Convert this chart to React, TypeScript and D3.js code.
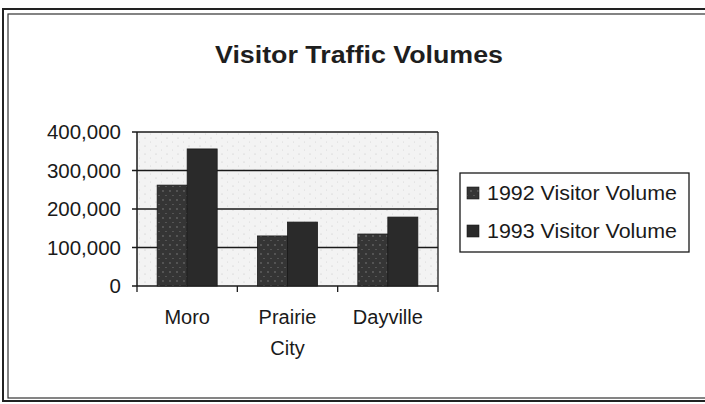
import React from "react";
import * as d3 from "d3";

const categories = [["Moro"], ["Prairie", "City"], ["Dayville"]];
const seriesNames = ["1992 Visitor Volume", "1993 Visitor Volume"];
const visitors1992 = [262000, 130000, 135000];
const visitors1993 = [356000, 166000, 179000];
const yTicks = [0, 100000, 200000, 300000, 400000];

const W = 705, H = 404;
const plot = { left: 137, right: 438, top: 132, bottom: 286 };
const font = "'Liberation Sans', Arial, sans-serif";

export default function App() {
  const keys = categories.map(c => c.join(" "));
  const x = d3.scaleBand().domain(keys).range([plot.left, plot.right]).paddingInner(0).paddingOuter(0);
  const inner = d3.scaleBand().domain(seriesNames).range([0, 60]);
  const y = d3.scaleLinear().domain([0, 400000]).range([plot.bottom, plot.top]);
  const fmt = d3.format(",");
  const series = [visitors1992, visitors1993];
  const fills = ["url(#speck92)", "#2a2a2a"];

  return (
    <svg width={W} height={H} style={{ position: "absolute", left: 0, top: 0, background: "#fff" }}>
      <defs>
        <pattern id="bgdots" width="11" height="8" patternUnits="userSpaceOnUse">
          <rect width="11" height="8" fill="#f3f3f3" />
          <circle cx="2" cy="2" r="0.6" fill="#c4c4c4" />
          <circle cx="7.5" cy="6" r="0.5" fill="#d2d2d2" />
        </pattern>
        <pattern id="speck92" width="7" height="9" patternUnits="userSpaceOnUse">
          <rect width="7" height="9" fill="#353535" />
          <circle cx="2" cy="2" r="0.7" fill="#8a8a8a" />
          <circle cx="5" cy="6.5" r="0.6" fill="#7a7a7a" />
        </pattern>
      </defs>
      {/* double frame */}
      <rect x={3} y={9} width={710} height={392} fill="none" stroke="#222" strokeWidth={2} />
      <rect x={8} y={14} width={700} height={384} fill="none" stroke="#333" strokeWidth={1.2} />

      <text x={215} y={63} textLength={288} lengthAdjust="spacingAndGlyphs" fontFamily={font} fontWeight="bold" fontSize={23} fill="#1e1e1e">
        Visitor Traffic Volumes
      </text>

      <rect x={plot.left} y={plot.top} width={plot.right - plot.left} height={plot.bottom - plot.top} fill="url(#bgdots)" />
      {yTicks.map(t => (
        <g key={t}>
          <line x1={plot.left - 5} x2={plot.right} y1={y(t)} y2={y(t)} stroke="#1a1a1a" strokeWidth={1.3} />
          <text x={121} y={y(t)} dy="0.36em" textAnchor="end" fontFamily={font} fontSize={20.5} fill="#1a1a1a">
            {fmt(t)}
          </text>
        </g>
      ))}
      <line x1={plot.left} x2={plot.left} y1={plot.top} y2={plot.bottom} stroke="#1a1a1a" strokeWidth={1.5} />
      <line x1={plot.right} x2={plot.right} y1={plot.top} y2={plot.bottom} stroke="#1a1a1a" strokeWidth={1.3} />

      {series.map((vals, si) =>
        vals.map((v, i) => (
          <rect
            key={si + "-" + i}
            x={(x(keys[i]) as number) + (x.bandwidth() - 60) / 2 + (inner(seriesNames[si]) as number)}
            y={y(v)}
            width={inner.bandwidth()}
            height={y(0) - y(v)}
            fill={fills[si]}
            stroke="#1a1a1a"
            strokeWidth={0.8}
          />
        ))
      )}

      {keys.concat(["end"]).map((k, i) => {
        const xx = plot.left + i * x.bandwidth();
        return <line key={k} x1={xx} x2={xx} y1={plot.bottom} y2={plot.bottom + 6} stroke="#1a1a1a" strokeWidth={1.3} />;
      })}

      {categories.map((lines, i) => (
        <text key={keys[i]} x={(x(keys[i]) as number) + x.bandwidth() / 2} y={324} textAnchor="middle" fontFamily={font} fontSize={20} fill="#1a1a1a">
          {lines.map((l, j) => (
            <tspan key={l} x={(x(keys[i]) as number) + x.bandwidth() / 2} dy={j === 0 ? 0 : 31}>{l}</tspan>
          ))}
        </text>
      ))}

      <rect x={460} y={173} width={229} height={79} fill="#fff" stroke="#1a1a1a" strokeWidth={1.3} />
      {seriesNames.map((s, i) => (
        <g key={s}>
          <rect x={467} y={187 + i * 38} width={12} height={12} fill={fills[i]} stroke="#1a1a1a" strokeWidth={0.6} />
          <text x={487} y={193 + i * 38} dy="0.36em" textLength={190} lengthAdjust="spacingAndGlyphs" fontFamily={font} fontSize={19.5} fill="#1a1a1a">{s}</text>
        </g>
      ))}
    </svg>
  );
}
